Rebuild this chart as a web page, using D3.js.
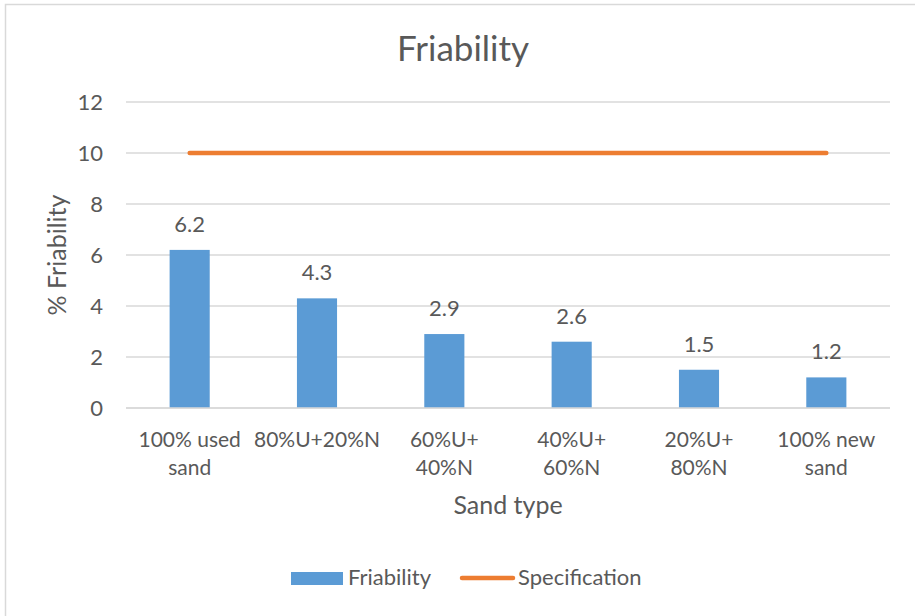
<!DOCTYPE html>
<html>
<head>
<meta charset="utf-8">
<script src="https://cdn.jsdelivr.net/npm/d3@7"></script>
<style>
  html, body { margin: 0; padding: 0; background: #fff; }
  svg { display: block; font-family: Lato, "Open Sans", sans-serif; }
</style>
</head>
<body>
<svg id="chart" width="915" height="616"></svg>
<script>
// Sand mixtures and their measured friability (%)
const categories = [
  ["100% used", "sand"],
  ["80%U+20%N"],
  ["60%U+", "40%N"],
  ["40%U+", "60%N"],
  ["20%U+", "80%N"],
  ["100% new", "sand"]
];
const friability = [6.2, 4.3, 2.9, 2.6, 1.5, 1.2];
const specification = [10, 10, 10, 10, 10, 10];
const yTicks = [0, 2, 4, 6, 8, 10, 12];

const blue = "#5B9BD5", orange = "#ED7D31", text = "#595959", grid = "#D9D9D9";
const fs = { title: 35, axisTitle: 25, tick: 22, cat: 21, value: 22, legend: 22 };

const svg = d3.select("#chart");

// Outer chart frame
svg.append("rect")
  .attr("x", 5.5).attr("y", 4.5).attr("width", 940).attr("height", 640)
  .attr("fill", "#fff").attr("stroke", grid).attr("stroke-width", 1.5);

const plot = { left: 126, right: 890, top: 102, bottom: 408 };

const x = d3.scaleBand()
  .domain(d3.range(categories.length))
  .range([plot.left, plot.right])
  .padding(0);
const y = d3.scaleLinear().domain([0, 12]).range([plot.bottom, plot.top]);
const barW = x.bandwidth() * 0.315;

// Horizontal gridlines
svg.append("g").selectAll("line").data(yTicks).join("line")
  .attr("x1", plot.left).attr("x2", plot.right)
  .attr("y1", d => y(d)).attr("y2", d => y(d))
  .attr("stroke", grid).attr("stroke-width", 1.3);

// Y axis tick labels
const yAxis = d3.axisLeft(y).tickValues(yTicks).tickSize(0).tickPadding(0);
const gy = svg.append("g").attr("transform", `translate(${plot.left - 23},0)`).call(yAxis);
gy.select(".domain").remove();
gy.selectAll("text")
  .attr("fill", text).attr("font-size", fs.tick).attr("font-family", "Lato, sans-serif")
  .attr("dy", "0.36em");

// Bars
svg.append("g").selectAll("rect").data(friability).join("rect")
  .attr("x", (d, i) => x(i) + x.bandwidth() / 2 - barW / 2)
  .attr("width", barW)
  .attr("y", d => y(d))
  .attr("height", d => y(0) - y(d))
  .attr("fill", blue);

// Value labels
svg.append("g").selectAll("text").data(friability).join("text")
  .attr("x", (d, i) => x(i) + x.bandwidth() / 2)
  .attr("y", d => y(d) - 18)
  .attr("text-anchor", "middle")
  .attr("fill", text).attr("font-size", fs.value)
  .text(d => d.toFixed(1));

// Baseline
svg.append("line")
  .attr("x1", plot.left).attr("x2", plot.right)
  .attr("y1", y(0)).attr("y2", y(0))
  .attr("stroke", grid).attr("stroke-width", 1.5);

// Specification line
const line = d3.line()
  .x((d, i) => x(i) + x.bandwidth() / 2)
  .y(d => y(d));
svg.append("path").datum(specification)
  .attr("d", line)
  .attr("fill", "none").attr("stroke", orange)
  .attr("stroke-width", 4.5).attr("stroke-linecap", "round");

// Category labels
const cat = svg.append("g").selectAll("text").data(categories).join("text")
  .attr("x", (d, i) => x(i) + x.bandwidth() / 2)
  .attr("y", 447)
  .attr("text-anchor", "middle")
  .attr("fill", text).attr("font-size", fs.cat);
cat.selectAll("tspan").data(d => d).join("tspan")
  .attr("x", function () { return this.parentNode.getAttribute("x"); })
  .attr("dy", (d, i) => i === 0 ? 0 : 28)
  .text(d => d);

// Axis titles
svg.append("text")
  .attr("x", (plot.left + plot.right) / 2).attr("y", 514)
  .attr("text-anchor", "middle").attr("fill", text).attr("font-size", fs.axisTitle)
  .text("Sand type");
svg.append("text")
  .attr("transform", `translate(66,255) rotate(-90)`)
  .attr("text-anchor", "middle").attr("fill", text).attr("font-size", fs.axisTitle)
  .text("% Friability");

// Title
svg.append("text")
  .attr("x", 463).attr("y", 61)
  .attr("text-anchor", "middle").attr("fill", text).attr("font-size", fs.title)
  .text("Friability");

// Legend
const lg = svg.append("g");
lg.append("rect").attr("x", 291).attr("y", 572).attr("width", 52).attr("height", 13).attr("fill", blue);
lg.append("text").attr("x", 348).attr("y", 585).attr("fill", text).attr("font-size", fs.legend).text("Friability");
lg.append("line").attr("x1", 462).attr("x2", 513).attr("y1", 578).attr("y2", 578)
  .attr("stroke", orange).attr("stroke-width", 4.5).attr("stroke-linecap", "round");
lg.append("text").attr("x", 518).attr("y", 585).attr("fill", text).attr("font-size", fs.legend).text("Specification");
</script>
</body>
</html>
